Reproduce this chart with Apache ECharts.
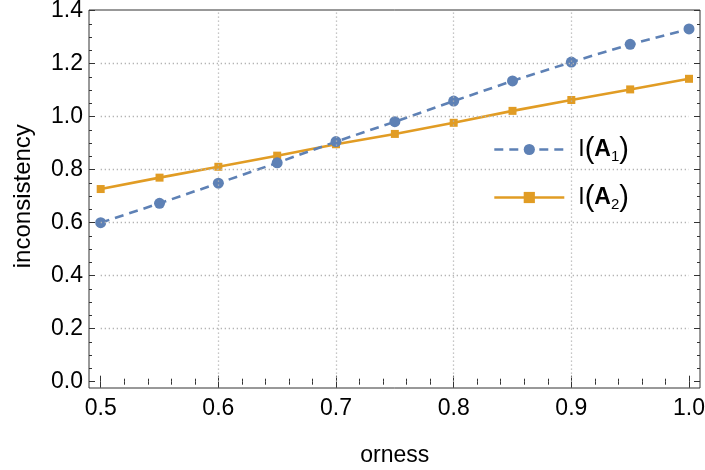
<!DOCTYPE html>
<html>
<head>
<meta charset="utf-8">
<script src="https://cdn.jsdelivr.net/npm/echarts@6/dist/echarts.min.js"></script>
<style>
    html, body { margin: 0; padding: 0; background: #fff; }
    #main { width: 705px; height: 470px; }
</style>
</head>
<body>
<div id="main"></div>
<script>
// 数据
var orness = [0.5, 0.55, 0.6, 0.65, 0.7, 0.75, 0.8, 0.85, 0.9, 0.95, 1.0];
var inconsA1 = [0.600, 0.673, 0.749, 0.826, 0.906, 0.981, 1.059, 1.135, 1.206, 1.273, 1.331];
var inconsA2 = [0.727, 0.770, 0.811, 0.853, 0.896, 0.935, 0.977, 1.022, 1.063, 1.103, 1.143];
var xGrid = [0.6, 0.7, 0.8, 0.9];
var yGrid = [0.2, 0.4, 0.6, 0.8, 1.0, 1.2];

var OrnessChart = function() {
    var FONT = '"Liberation Sans", Arial, sans-serif';
    var FRAME = '#333';
    var t = {
        init : function(id) {
            t.renderChart(id);
        },
        pairs : function(xs, ys) {
            var out = [];
            for (var i = 0; i < xs.length; i++) {
                out.push([xs[i], ys[i]]);
            }
            return out;
        },
        // 刻度轴 (画在外框上)
        axis : function(kind, pos, offset, labels, extra) {
            var a = {
                type : 'value',
                gridIndex : 1,
                position : pos,
                offset : offset,
                min : kind == 'x' ? 0.5 : 0,
                max : kind == 'x' ? 1.0 : 1.4,
                interval : kind == 'x' ? 0.1 : 0.2,
                axisLine : { show : false },
                axisTick : { show : true, inside : true, length : 6, lineStyle : { color : FRAME, width : 1 } },
                minorTick : { show : true, splitNumber : kind == 'x' ? 5 : 4, length : 3, lineStyle : { color : FRAME, width : 1 } },
                axisLabel : { show : false },
                splitLine : { show : false },
                minorSplitLine : { show : false }
            };
            if (labels) {
                a.axisLabel = {
                    show : true,
                    margin : kind == 'x' ? 9 : 6,
                    color : '#000',
                    fontFamily : FONT,
                    fontSize : 23,
                    formatter : function(v) {
                        return v.toFixed(1);
                    }
                };
            }
            for (var key in extra) a[key] = extra[key];
            return a;
        },
        renderChart : function(id) {
            var chart = echarts.init(document.getElementById(id), null, { renderer : 'canvas' });
            var gridLines = [];
            for (var i = 0; i < xGrid.length; i++) gridLines.push({ xAxis : xGrid[i] });
            for (var j = 0; j < yGrid.length; j++) gridLines.push({ yAxis : yGrid[j] });

            var option = {
                animation : false,
                backgroundColor : '#fff',
                grid : [
                    // 外框
                    { left : 89, right : 5, top : 10, bottom : 82, outerBoundsMode : 'none', containLabel : false,
                      show : true, borderColor : FRAME, borderWidth : 1, backgroundColor : 'transparent' },
                    // 数据区
                    { left : 100.7, right : 16, top : 10.7, bottom : 88.3, outerBoundsMode : 'none', containLabel : false }
                ],
                xAxis : [
                    t.axis('x', 'bottom', 6.3, true, {
                        name : 'orness', nameLocation : 'middle', nameGap : 56,
                        nameTextStyle : { color : '#000', fontFamily : FONT, fontSize : 23 }
                    }),
                    t.axis('x', 'top', 0.7, false),
                    { type : 'value', gridIndex : 0, show : false }
                ],
                yAxis : [
                    t.axis('y', 'left', 11.7, true, {
                        name : 'inconsistency', nameLocation : 'middle', nameGap : 54,
                        nameTextStyle : { color : '#000', fontFamily : FONT, fontSize : 24 }
                    }),
                    t.axis('y', 'right', 11, false),
                    { type : 'value', gridIndex : 0, show : false }
                ],
                legend : {
                    data : [ 'A1', 'A2' ],
                    orient : 'vertical',
                    left : 488,
                    top : 130,
                    itemWidth : 70,
                    itemHeight : 14,
                    itemGap : 19,
                    lineStyle : { width : 2.6 },
                    formatter : function(name) {
                        return '{r|I}{p|(}{b|A}{s|' + name.substring(1) + '}{p|)}';
                    },
                    textStyle : {
                        color : '#000',
                        fontFamily : FONT,
                        padding : [0, 0, 0, 9],
                        rich : {
                            r : { fontSize : 23, fontFamily : FONT, color : '#000' },
                            p : { fontSize : 29, fontFamily : FONT, color : '#000' },
                            b : { fontSize : 23, fontFamily : FONT, color : '#000', fontWeight : 'bold' },
                            s : { fontSize : 15, fontFamily : FONT, color : '#000', verticalAlign : 'bottom', padding : [9, 0, 0, 0] }
                        }
                    }
                },
                series : [ {
                    name : 'grid',
                    type : 'line',
                    xAxisIndex : 0,
                    yAxisIndex : 0,
                    data : [],
                    silent : true,
                    z : 1,
                    markLine : {
                        silent : true,
                        symbol : 'none',
                        label : { show : false },
                        animation : false,
                        lineStyle : { color : '#b4b4b4', width : 1.3, type : [1.3, 2.7] },
                        data : gridLines
                    }
                }, {
                    name : 'A1',
                    type : 'line',
                    xAxisIndex : 0,
                    yAxisIndex : 0,
                    clip : false,
                    data : t.pairs(orness, inconsA1),
                    symbol : 'circle',
                    symbolSize : 11,
                    z : 3,
                    itemStyle : { color : '#5E81B5' },
                    lineStyle : { color : '#5E81B5', width : 2.6, type : [9, 6] }
                }, {
                    name : 'A2',
                    type : 'line',
                    xAxisIndex : 0,
                    yAxisIndex : 0,
                    clip : false,
                    data : t.pairs(orness, inconsA2),
                    symbol : 'rect',
                    symbolSize : 8,
                    z : 2,
                    itemStyle : { color : '#E19C24' },
                    lineStyle : { color : '#E19C24', width : 2.6 }
                } ]
            };
            chart.setOption(option);
        }
    };
    return t;
}();

OrnessChart.init('main');
</script>
</body>
</html>
